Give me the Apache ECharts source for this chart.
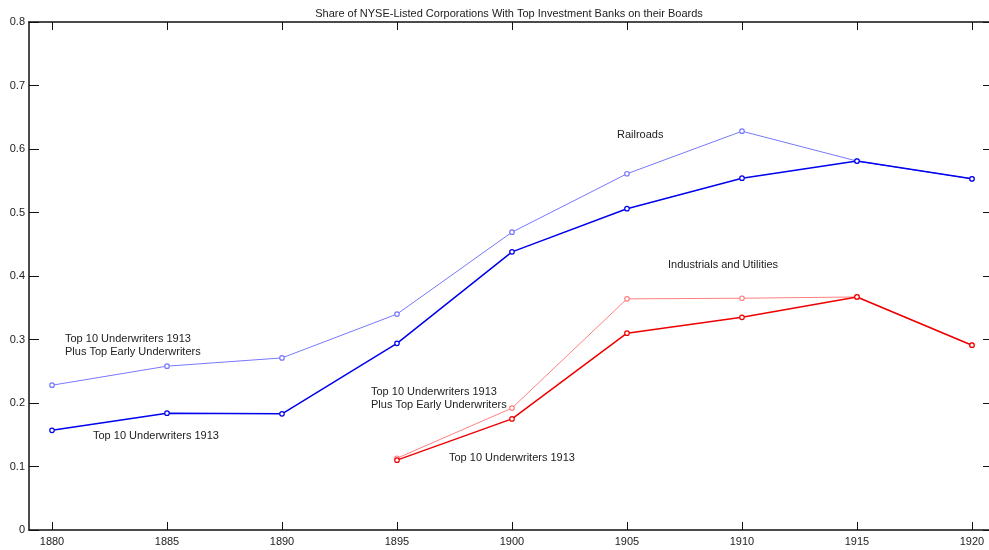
<!DOCTYPE html>
<html><head><meta charset="utf-8">
<script src="https://cdn.jsdelivr.net/npm/echarts@6/dist/echarts.min.js"></script>
<style>html,body{margin:0;padding:0;background:#fff}#c{width:989px;height:550px}</style>
</head><body><div id="c"></div>
<script>
const years = [1880, 1885, 1890, 1895, 1900, 1905, 1910, 1915, 1920];
const xTicks = [1880, 1885, 1890, 1895, 1900, 1905, 1910, 1915, 1920];
const yTicks = [0, 0.1, 0.2, 0.3, 0.4, 0.5, 0.6, 0.7, 0.8];
const railPlusEarly = [0.228, 0.258, 0.271, 0.340, 0.469, 0.561, 0.628, 0.581, 0.553];
const railTop10 = [0.157, 0.184, 0.183, 0.294, 0.438, 0.506, 0.554, 0.581, 0.553];
const indYears = [1895, 1900, 1905, 1910, 1915, 1920];
const indPlusEarly = [0.113, 0.192, 0.364, 0.365, 0.367, 0.291];
const indTop10 = [0.110, 0.175, 0.310, 0.335, 0.367, 0.291];
const title = 'Share of NYSE-Listed Corporations With Top Investment Banks on their Boards';

const pairs = (xs, ys) => xs.map((x, i) => [x, ys[i]]);
const font = 'Liberation Sans, Arial, sans-serif';
const chart = echarts.init(document.getElementById('c'));
function line(name, xs, ys, color, w, z) {
  return { name, type: 'line', data: pairs(xs, ys), z,
    lineStyle: { color, width: w }, itemStyle: { color: '#fff', borderColor: color, borderWidth: 1.2 },
    symbol: 'circle', symbolSize: 4.5, showSymbol: true, animation: false };
}
chart.setOption({
  animation: false,
  title: { text: title, left: 504, top: 3, textAlign: 'center',
    textStyle: { fontFamily: font, fontSize: 11, fontWeight: 'normal', color: '#222' } },
  grid: { left: 29, top: 22, width: 960, height: 508, containLabel: false },
  xAxis: [
    { type: 'value', min: 1879, max: 1920.74, position: 'bottom',
      axisLine: { show: true, onZero: false, lineStyle: { color: '#111', width: 1.5 } },
      axisTick: { show: true, inside: true, length: 8, customValues: xTicks, lineStyle: { color: '#111' } },
      axisLabel: { show: true, customValues: xTicks, formatter: v => String(v), fontFamily: font, fontSize: 11, color: '#222', margin: 6 },
      splitLine: { show: false } },
    { type: 'value', min: 1879, max: 1920.74, position: 'top',
      axisLine: { show: true, onZero: false, lineStyle: { color: '#111', width: 1.5 } },
      axisTick: { show: true, inside: true, length: 8, customValues: xTicks, lineStyle: { color: '#111' } },
      axisLabel: { show: false }, splitLine: { show: false } }
  ],
  yAxis: [
    { type: 'value', min: 0, max: 0.8, interval: 0.1, position: 'left',
      axisLine: { show: true, onZero: false, lineStyle: { color: '#111', width: 1.5 } },
      axisTick: { show: true, inside: true, length: 10, lineStyle: { color: '#111' } },
      axisLabel: { formatter: v => String(Math.round(v * 10) / 10), fontFamily: font, fontSize: 11, color: '#222', margin: 4 },
      splitLine: { show: false } },
    { type: 'value', min: 0, max: 0.8, interval: 0.1, position: 'right',
      axisLine: { show: false, onZero: false },
      axisTick: { show: true, inside: true, length: 6, lineStyle: { color: '#111' } },
      axisLabel: { show: false }, splitLine: { show: false } }
  ],
  series: [
    line('Railroads: Top 10 Underwriters 1913 Plus Top Early Underwriters', years, railPlusEarly, '#7777ff', 1, 2),
    line('Railroads: Top 10 Underwriters 1913', years, railTop10, '#0000ee', 1.5, 3),
    line('Industrials and Utilities: Top 10 Underwriters 1913 Plus Top Early Underwriters', indYears, indPlusEarly, '#ff8080', 1, 2),
    line('Industrials and Utilities: Top 10 Underwriters 1913', indYears, indTop10, '#ee0000', 1.5, 3)
  ],
  graphic: [
    { type: 'text', left: 617, top: 129, style: { text: 'Railroads', font: '11px ' + font, fill: '#222' } },
    { type: 'text', left: 668, top: 259, style: { text: 'Industrials and Utilities', font: '11px ' + font, fill: '#222' } },
    { type: 'text', left: 65, top: 332, style: { text: 'Top 10 Underwriters 1913\nPlus Top Early Underwriters', font: '11px ' + font, fill: '#222', lineHeight: 13 } },
    { type: 'text', left: 93, top: 430, style: { text: 'Top 10 Underwriters 1913', font: '11px ' + font, fill: '#222' } },
    { type: 'text', left: 371, top: 385, style: { text: 'Top 10 Underwriters 1913\nPlus Top Early Underwriters', font: '11px ' + font, fill: '#222', lineHeight: 13 } },
    { type: 'text', left: 449, top: 452, style: { text: 'Top 10 Underwriters 1913', font: '11px ' + font, fill: '#222' } }
  ]
});
</script></body></html>
